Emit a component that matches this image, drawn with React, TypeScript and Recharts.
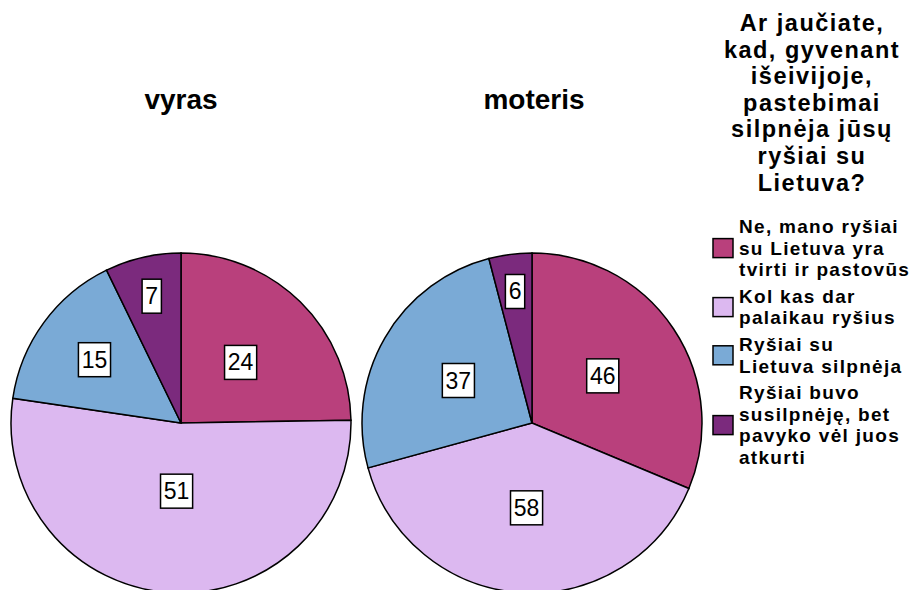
import { PieChart, Pie, Cell, Legend } from 'recharts';

const CATEGORIES = [
  'Ne, mano ryšiai su Lietuva yra tvirti ir pastovūs',
  'Kol kas dar palaikau ryšius',
  'Ryšiai su Lietuva silpnėja',
  'Ryšiai buvo susilpnėję, bet pavyko vėl juos atkurti',
];

// legend text as it wraps in the original
const CATEGORY_LINES = [
  ['Ne, mano ryšiai', 'su Lietuva yra', 'tvirti ir pastovūs'],
  ['Kol kas dar', 'palaikau ryšius'],
  ['Ryšiai su', 'Lietuva silpnėja'],
  ['Ryšiai buvo', 'susilpnėję, bet', 'pavyko vėl juos', 'atkurti'],
];

const LEGEND_TITLE = [
  'Ar jaučiate,',
  'kad, gyvenant',
  'išeivijoje,',
  'pastebimai',
  'silpnėja jūsų',
  'ryšiai su',
  'Lietuva?',
];

const GROUPS = ['vyras', 'moteris'];
const VYRAS_VALUES = [24, 51, 15, 7];
const MOTERIS_VALUES = [46, 58, 37, 6];

const COLORS = ['#B9407C', '#DCB8F0', '#7AAAD6', '#7B2A7D'];

const FONT = '"Liberation Sans", Arial, Helvetica, sans-serif';
const RAD = Math.PI / 180;

const vyrasData = CATEGORIES.map((name, i) => ({ name, value: VYRAS_VALUES[i] }));
const moterisData = CATEGORIES.map((name, i) => ({ name, value: MOTERIS_VALUES[i] }));

const renderLabel = (props: any) => {
  const { cx, cy, midAngle, outerRadius, percent, value } = props;
  const span = percent * 360;
  let ratio = 0.5;
  if (span < 80) ratio = Math.min(0.78, 0.52 + (80 - span) / 220);
  if (span > 150) ratio = 0.5 - (span - 150) / 400;
  const r = outerRadius * ratio;
  const x = cx + r * Math.cos(-midAngle * RAD);
  const y = cy + r * Math.sin(-midAngle * RAD);
  const text = String(value);
  const w = text.length * 12.8 + 6.5;
  const h = 34;
  return (
    <g>
      <rect x={x - w / 2} y={y - h / 2} width={w} height={h} fill="#fff" stroke="#000" strokeWidth={1.5} />
      <text x={x} y={y + 8} textAnchor="middle" fontSize={23} fontFamily={FONT} fill="#000">
        {text}
      </text>
    </g>
  );
};

const renderLegend = () => {
  const step = 21.6;
  let y = 233;
  const items = CATEGORY_LINES.map((lines, i) => {
    const top = y;
    const mid = top + ((lines.length - 1) * step) / 2;
    y = top + lines.length * step + 5;
    return (
      <g key={i}>
        <rect x={13} y={mid - 16} width={20} height={19} fill={COLORS[i]} stroke="#000" strokeWidth={1.5} />
        <text x={39} y={top} fontSize={19} fontWeight="bold" letterSpacing={1.3} fontFamily={FONT} fill="#000">
          {lines.map((line, j) => (
            <tspan key={j} x={39} dy={j === 0 ? 0 : step}>
              {line}
            </tspan>
          ))}
        </text>
      </g>
    );
  });
  return (
    <svg width={219} height={480} style={{ display: 'block' }}>
      <text x={112} y={31} textAnchor="middle" fontSize={23.5} fontWeight="bold" letterSpacing={1.5} fontFamily={FONT} fill="#000">
        {LEGEND_TITLE.map((line, i) => (
          <tspan key={i} x={112} dy={i === 0 ? 0 : 26.6}>
            {line}
          </tspan>
        ))}
      </text>
      {items}
    </svg>
  );
};

export default function App() {
  return (
    <div style={{ position: 'absolute', left: 0, top: 0, width: 919, height: 590, background: '#fff', overflow: 'hidden' }}>
      <PieChart width={919} height={590} margin={{ top: 0, right: 0, bottom: 0, left: 0 }}>
        <Pie
          data={vyrasData}
          dataKey="value"
          nameKey="name"
          cx={181}
          cy={423}
          outerRadius={170}
          startAngle={90}
          endAngle={-270}
          stroke="#000"
          strokeWidth={1.5}
          label={renderLabel}
          labelLine={false}
          isAnimationActive={false}
        >
          {vyrasData.map((_, i) => (
            <Cell key={i} fill={COLORS[i]} />
          ))}
        </Pie>
        <Pie
          data={moterisData}
          dataKey="value"
          nameKey="name"
          cx={532}
          cy={423}
          outerRadius={170}
          startAngle={90}
          endAngle={-270}
          stroke="#000"
          strokeWidth={1.5}
          label={renderLabel}
          labelLine={false}
          isAnimationActive={false}
        >
          {moterisData.map((_, i) => (
            <Cell key={i} fill={COLORS[i]} />
          ))}
        </Pie>
        <Legend
          content={renderLegend}
          wrapperStyle={{ position: 'absolute', left: 700, top: 0, width: 219, height: 480 }}
        />
      </PieChart>
      <svg width={919} height={140} style={{ position: 'absolute', left: 0, top: 0, pointerEvents: 'none' }}>
        {GROUPS.map((g, i) => (
          <text key={g} x={i === 0 ? 181 : 534} y={109} textAnchor="middle" fontSize={28} fontWeight="bold" fontFamily={FONT} fill="#000">
            {g}
          </text>
        ))}
      </svg>
    </div>
  );
}
